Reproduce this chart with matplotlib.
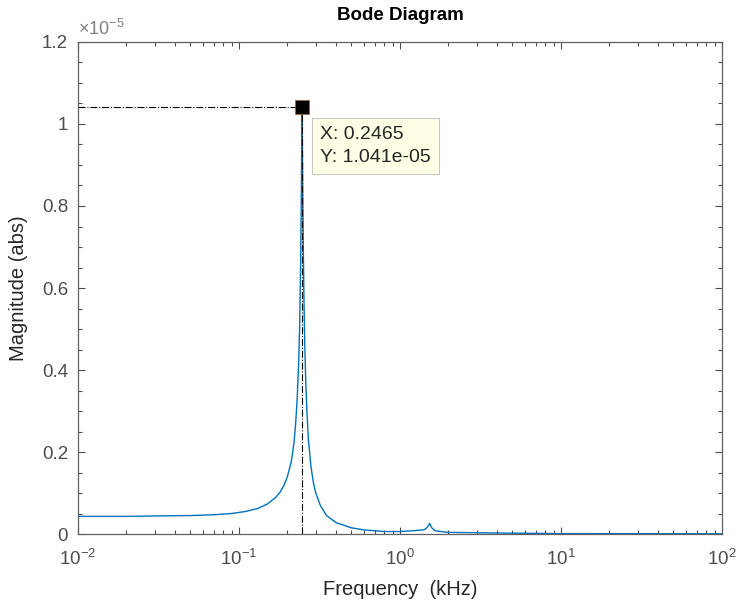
import numpy as np
import matplotlib
matplotlib.use('Agg')
import matplotlib.pyplot as plt
from matplotlib.ticker import FuncFormatter, MultipleLocator, LogLocator

# 数据：频率 (kHz) 和幅值 (abs)
freq_khz = [0.01, 0.02, 0.03, 0.05, 0.07, 0.09, 0.11, 0.13, 0.15, 0.17, 0.18,
            0.19, 0.20, 0.21, 0.215, 0.22, 0.225, 0.23, 0.235, 0.238, 0.24,
            0.242, 0.244, 0.245, 0.2465, 0.248, 0.249, 0.251, 0.253, 0.256,
            0.26, 0.265, 0.27, 0.28, 0.29, 0.30, 0.32, 0.35, 0.40, 0.50, 0.60,
            0.80, 1.0, 1.2, 1.4, 1.45, 1.5, 1.53, 1.57, 1.65, 1.8, 2.0, 5.0,
            10.0, 100.0]
mag_e5 = [0.043, 0.043, 0.044, 0.045, 0.047, 0.050, 0.055, 0.062, 0.073, 0.090,
          0.102, 0.118, 0.140, 0.172, 0.195, 0.225, 0.27, 0.33, 0.42, 0.50,
          0.58, 0.68, 0.82, 0.92, 1.041, 0.93, 0.84, 0.70, 0.59, 0.47, 0.37,
          0.29, 0.23, 0.165, 0.125, 0.10, 0.07, 0.045, 0.028, 0.015, 0.010,
          0.006, 0.006, 0.008, 0.010, 0.013, 0.020, 0.026, 0.016, 0.008, 0.006,
          0.004, 0.002, 0.001, 0.0005]
mag = np.array(mag_e5) * 1e-5

tip_x = 0.2465
tip_y = 1.041e-05

plt.rcParams['font.family'] = ['Liberation Sans', 'DejaVu Sans']
plt.rcParams['mathtext.fontset'] = 'custom'
plt.rcParams['mathtext.rm'] = 'Liberation Sans'
plt.rcParams['mathtext.it'] = 'Liberation Sans'

fig = plt.figure(figsize=(7.39, 6.06), dpi=100)
ax = fig.add_axes([0.1055, 0.1188, 0.8714, 0.8119])

gray = '#4d4d4d'
ax.plot(freq_khz, mag, color='#0072BD', lw=1.0)

# data tip
ax.plot([0.01, tip_x], [tip_y, tip_y], color='k', lw=0.8, ls='-.')
ax.plot([tip_x, tip_x], [0, tip_y], color='k', lw=0.8, ls='-.')
ax.plot(tip_x, tip_y, marker='s', ms=10, color='k', mec='#996633', mew=0.5)
ax.annotate('X: 0.2465\nY: 1.041e-05', xy=(tip_x, tip_y),
            xytext=(18, -19), textcoords='offset pixels', ha='left', va='top',
            fontsize=14, color='#262626', linespacing=1.45,
            bbox=dict(boxstyle='square,pad=0.4', fc='#ffffe6', ec='#c8c8c8', lw=0.8))

ax.set_xscale('log')
ax.set_xlim(0.01, 100)
ax.set_ylim(0, 1.2e-5)
ax.yaxis.set_major_locator(MultipleLocator(0.2e-5))
ax.yaxis.set_minor_locator(MultipleLocator(0.05e-5))
ax.yaxis.set_major_formatter(FuncFormatter(lambda v, p: f'{v * 1e5:g}'))
ax.xaxis.set_major_locator(LogLocator(base=10))
ax.xaxis.set_minor_locator(LogLocator(base=10, subs=np.arange(2, 10)))

ax.tick_params(which='both', direction='in', top=True, right=True, colors=gray,
               labelsize=13.5, width=0.8)
ax.tick_params(which='major', length=5)
ax.tick_params(which='minor', length=3)
ax.tick_params(axis='x', which='major', pad=11)
ax.tick_params(axis='y', which='major', pad=7)
for s in ax.spines.values():
    s.set_color('#606060')
    s.set_linewidth(0.9)

ax.text(0.0, 1.006, r'$\times10^{-5}$', transform=ax.transAxes, fontsize=13,
        color='#808080', ha='left', va='bottom')
ax.set_title('Bode Diagram', fontsize=13.5, fontweight='bold', pad=16)
ax.set_xlabel('Frequency  (kHz)', fontsize=14.5, color='#262626', labelpad=8)
ax.set_ylabel('Magnitude (abs)', fontsize=14.5, color='#262626', labelpad=10)

fig.savefig('out.png', dpi=100)
